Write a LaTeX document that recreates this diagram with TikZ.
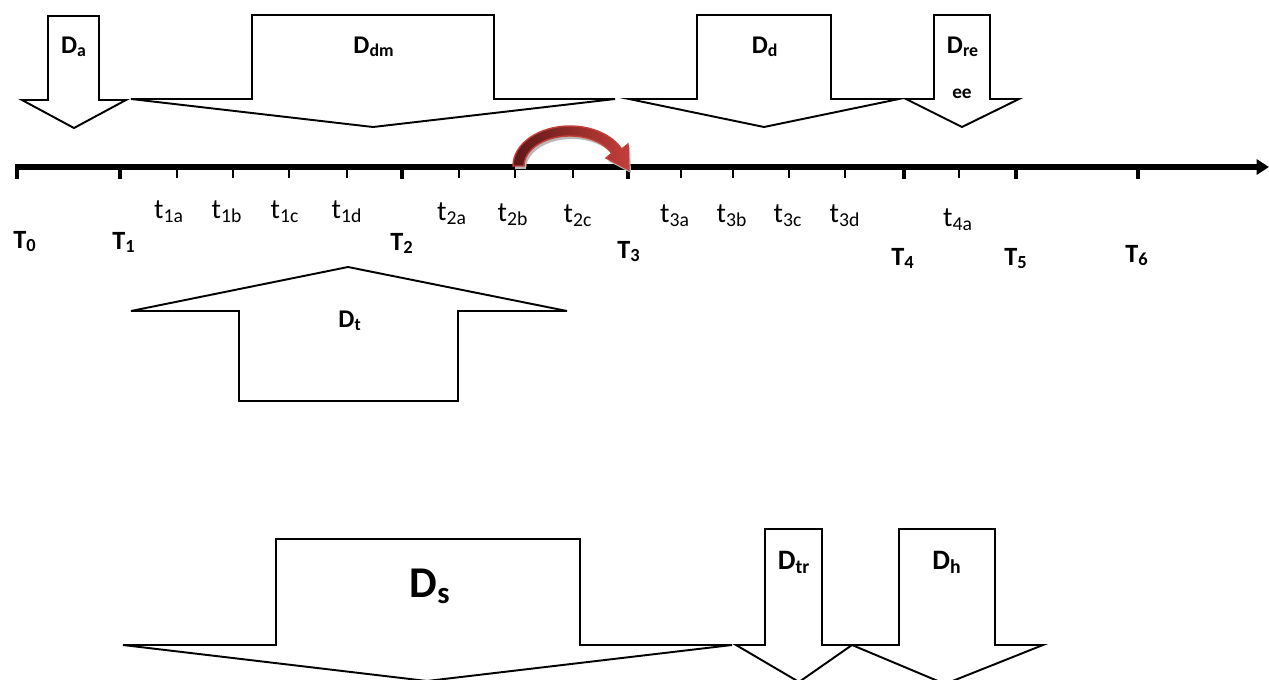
\documentclass[tikz,border=0pt]{standalone}
\usepackage{fontspec}
\setmainfont{Carlito}
\usetikzlibrary{arrows.meta,calc}

\tikzset{
    block/.style={draw=black, line width=1.1pt, fill=white, line join=miter},
    bigT/.style={font=\fontsize{15}{18}\selectfont\bfseries, inner sep=0pt},
    smallt/.style={font=\fontsize{16}{19}\selectfont, inner sep=0pt},
    dlabel/.style={font=\fontsize{14.5}{17}\selectfont\bfseries, inner sep=0pt},
}
\definecolor{arcred}{RGB}{196,62,58}
\definecolor{arcdark}{RGB}{92,24,24}

\begin{document}
\begin{tikzpicture}[x=0.02cm, y=-0.02cm]
    \useasboundingbox (0,0) rectangle (1269,680);

    % the block arrow D_a
    \draw[block] (48,16) -- (99,16) -- (99,100) -- (126,100) -- (74,128)
        -- (22,100) -- (48,100) -- cycle;
    \node[dlabel, anchor=base] (Da) at (74,53) {D\textsubscript{a}};

    % the block arrow D_dm
    \draw[block] (252,15) -- (494,15) -- (494,99) -- (615,99) -- (373,127)
        -- (131,99) -- (252,99) -- cycle;
    \node[dlabel, anchor=base] (Ddm) at (374,53) {D\textsubscript{dm}};

    % the block arrow D_d
    \draw[block] (697,15) -- (831,15) -- (831,99) -- (899,99) -- (764,127)
        -- (629,99) -- (697,99) -- cycle;
    \node[dlabel, anchor=base] (Dd) at (765,53) {D\textsubscript{d}};

    % the block arrow D_ree (the ee wraps below)
    \draw[block] (934,15) -- (990,15) -- (990,99) -- (1019,99) -- (962,127)
        -- (906,99) -- (934,99) -- cycle;
    \node[dlabel, anchor=base] (Dre) at (963,53) {D\textsubscript{re}};
    \node[dlabel, anchor=base, font=\fontsize{11}{13}\selectfont\bfseries] (Dee) at (962,98) {ee};

    % the time axis
    \draw[line width=3pt, -{Triangle[length=7pt,width=8.5pt]}] (15,167) -- (1269,167);

    % the major ticks with the T labels
    \foreach \x/\lx/\ly/\n in {17/25/248/0, 120/124/249/1, 402/402/250/2, 628/629/258/3,
                               904/903/265/4, 1016/1016/265/5, 1138/1137/262/6}
    {
        \draw[line width=2.3pt] (\x,166) -- (\x,179);
        \node[bigT, anchor=base] (T\n) at (\lx,\ly) {T\textsubscript{\n}};
    }

    % the minor ticks with the t labels
    \foreach \x/\lx/\ly/\s in {177/169/218/1a, 233/227/218/1b, 289/285/218/1c, 347/347/218/1d,
                               459/452/220/2a, 515/513/221/2b, 573/578/222/2c,
                               681/675/222/3a, 733/732/222/3b, 789/788/222/3c, 845/845/222/3d,
                               959/958/226/4a}
    {
        \draw[line width=0.9pt] (\x,168) -- (\x,178);
        \node[smallt, anchor=base] (t\s) at (\lx,\ly) {t\textsubscript{\s}};
    }

    % the curved red arrow from t_2b to T_3 (shadow first)
    \fill[gray!55, shift={(2,3)}] (513,166) arc[start angle=180, end angle=335, x radius=57, y radius=40]
        -- (628,144) -- (629,170) -- (606,158)
        -- (611.7,153.3) arc[start angle=335, end angle=180, x radius=46, y radius=30] -- cycle;
    \shade[left color=arcdark, right color=arcred, draw=arcred, line width=0.8pt]
        (513,166) arc[start angle=180, end angle=335, x radius=57, y radius=40]
        -- (628,144) -- (629,170) -- (606,158)
        -- (611.7,153.3) arc[start angle=335, end angle=180, x radius=46, y radius=30] -- cycle;

    % the up block arrow D_t
    \draw[block] (239,401) -- (458,401) -- (458,311) -- (567,311) -- (348,267)
        -- (131,311) -- (239,311) -- cycle;
    \node[dlabel, anchor=base] (Dt) at (350,327) {D\textsubscript{t}};

    % the block arrow D_s
    \draw[block] (276,539) -- (580,539) -- (580,645) -- (732,645) -- (427,681)
        -- (123,645) -- (276,645) -- cycle;
    \node[dlabel, anchor=base, font=\fontsize{25}{30}\selectfont\bfseries] (Ds) at (430,597) {D\textsubscript{s}};

    % the block arrow D_tr
    \draw[block] (765,529) -- (822,529) -- (822,645) -- (852,645) -- (799,682)
        -- (736,645) -- (765,645) -- cycle;
    \node[dlabel, anchor=base, font=\fontsize{16}{19}\selectfont\bfseries] (Dtr) at (794,569) {D\textsubscript{tr}};

    % the block arrow D_h
    \draw[block] (899,529) -- (995,529) -- (995,645) -- (1043,645) -- (945,684)
        -- (852,645) -- (899,645) -- cycle;
    \node[dlabel, anchor=base, font=\fontsize{16}{19}\selectfont\bfseries] (Dh) at (947,569) {D\textsubscript{h}};
\end{tikzpicture}
\end{document}
